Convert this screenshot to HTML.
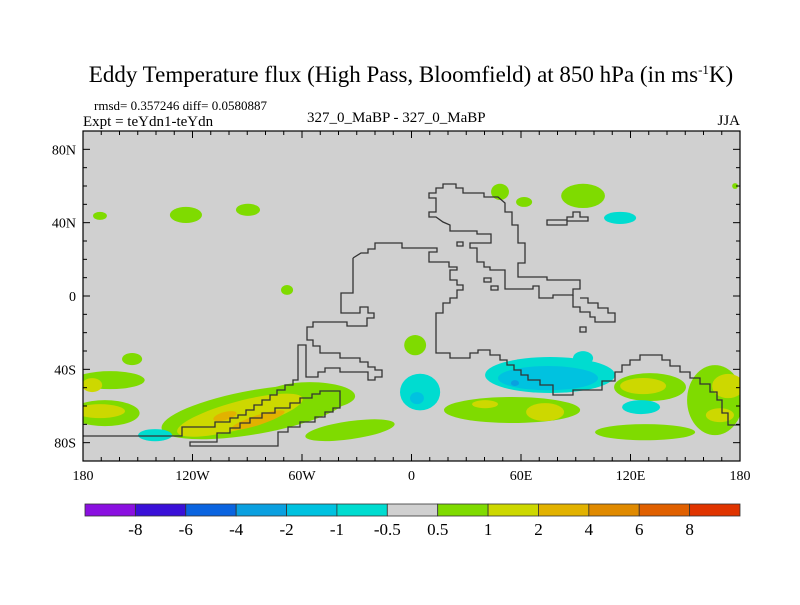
<!DOCTYPE html>
<html><head><meta charset="utf-8"><style>
body{margin:0;background:#fff;}
svg text{font-family:"Liberation Serif",serif;fill:#000;}
</style></head><body>
<svg id="chart" width="800" height="600" viewBox="0 0 800 600" xmlns="http://www.w3.org/2000/svg">
<text x="411" y="82" font-size="23" text-anchor="middle">Eddy Temperature flux (High Pass, Bloomfield) at 850 hPa (in ms<tspan dy="-8" font-size="13">-1</tspan><tspan dy="8">K)</tspan></text>
<text x="94" y="110" font-size="13">rmsd= 0.357246 diff= 0.0580887</text>
<text x="83" y="126" font-size="15">Expt = teYdn1-teYdn</text>
<text x="307" y="122" font-size="15">327_0_MaBP - 327_0_MaBP</text>
<text x="740" y="125" font-size="15" text-anchor="end">JJA</text>
<defs><clipPath id="plotclip"><rect x="83" y="131" width="657" height="330"/></clipPath></defs>
<rect x="83" y="131" width="657" height="330" fill="#d0d0d0"/>
<g id="blobs" clip-path="url(#plotclip)"></g>
<g id="coast" fill="none" stroke="#333" stroke-width="1.3" clip-path="url(#plotclip)">
<path d="M443,184 L456,184 456,188 463,188 463,193 484,193 484,197 498,197 505,203 505,212 512,212 512,225 518,225 518,243 525,243 525,263 518,263 518,277 547,277 547,280 580,280 580,289 573,289 573,295 553,295 553,298 539,298 539,286 533,286 533,289 505,289 505,270 490,270 490,267 484,267 484,262 477,262 477,248 470,248 470,243 491,243 491,234 477,234 477,231 450,231 450,225 443,222 436,217 429,217 429,212 436,212 436,198 429,198 429,193 436,193 436,188 443,188 Z"/>
<path d="M573,295 L573,307 580,307 580,312 590,312 590,317 595,317 595,322 615,322 615,313 608,313 608,308 598,308 598,303 588,303 588,298 580,298"/>
<path d="M547,225 L567,225 567,221 588,221 588,217 580,217 580,212 573,212 573,217 567,217 567,220 547,220 Z"/>
<path d="M457,242 h6 v4 h-6 Z M484,278 h7 v4 h-7 Z M491,286 h7 v4 h-7 Z M580,327 h6 v5 h-6 Z"/>
<path d="M353,258 L361,253 368,253 368,249 375,249 375,243 402,243 402,248 437,248 437,252 429,252 429,262 449,262 449,267 457,267 457,270 450,270 450,280 457,280 457,285 463,285 463,290 457,290 457,298 450,298 450,303 443,303 443,313 436,313 436,353 450,353 450,358 470,358 470,353 478,353 478,350 490,350 490,355 500,355 500,360 507,360 507,365 514,365 514,370 521,370 521,375 528,375 528,380 540,380 540,385 553,385 553,395 573,395 573,390 602,390 602,381 615,381 615,372 622,372 622,365 630,365 630,360 640,360 640,355 662,355 662,360 670,360 670,366 680,366 680,372 690,372 690,378 700,378 700,384 710,384 710,392 717,392 717,400 722,400 722,413 728,413 728,425 742,425"/>
<path d="M353,258 L353,293 341,293 341,313 360,313 360,307 368,307 368,313 374,313 374,318 367,318 367,326 347,326 347,322 313,322 313,327 307,327 307,340 313,340 313,346 320,346 320,353 340,353 340,358 360,358 360,362 368,362 368,367 375,367 375,370 382,370 382,377 375,377 375,380 368,380 368,372 340,372 340,368 325,368 325,372 318,372 318,377 306,377 306,345 298,345 298,380 293,380 293,385 285,385 285,390 277,390 277,395 270,395 270,400 262,400 262,405 254,405 254,410 246,410 246,415 238,415 238,418 230,418 230,422 215,422 215,427 182,427 182,436 83,436"/>
<path d="M190,446 L190,442 217,442 217,433 230,433 230,428 240,428 240,423 250,423 250,418 262,418 262,413 275,413 275,408 290,408 290,403 300,403 300,398 312,398 312,394 320,394 320,391 340,391 340,408 333,408 333,412 325,412 325,417 315,417 315,422 300,422 300,427 288,427 288,432 278,432 278,446 Z"/>
</g>
<g id="ticks" stroke="#000" stroke-width="1"></g>
<rect x="83" y="131" width="657" height="330" fill="none" stroke="#000" stroke-width="1.2"/>
<g id="xlabels"></g><g id="ylabels"></g>
<g id="colorbar"></g>
</svg>
<script>
// contour patches (lon, lat centers; half-widths in degrees; level index)
const blobLon   = [-170.7,-123.6,-89.6,48.5,61.7,94,177.3,-68.2,2,-153.1,-165.2,-168,-85.7,-55.6,-33.7,55.1,130.7,128,166.3, -175,-170.7,-94,40.3,73.2,126.9,173.5,169, -84.1,-102.2, 114.3,4.7,75.9,94,125.8,-140.5, 74.8,3, 56.7];
const blobLat   = [43.7,44.2,47,56.8,51.3,54.6,60,3.3,-26.8,-34.4,-45.9,-63.9,-63.3,-54.6,-73.2,-62.2,-49.7,-74.3,-56.8, -48.6,-62.8,-65,-59,-63.3,-49.1,-49.1,-65, -67.7,-65.5, 42.6,-52.4,-43.1,-33.9,-60.6,-75.9, -44.8,-55.7, -47.5];
const blobRx    = [3.8,8.8,6.6,4.9,4.4,12,1.6,3.3,6,5.5,19,19,52,24.7,24.7,37.3,19.7,27.4,15.3, 5.5,13.7,35.6,7.1,10.4,12.6,8.8,7.7, 15.3,6.6, 8.8,11,35.6,5.5,10.4,9.3, 27.4,3.8, 2.2];
const blobRy    = [2.2,4.4,3.3,4.4,2.7,6.6,1.6,2.7,5.5,3.3,4.9,7.1,12,7.6,4.9,7.1,7.6,4.4,19.1, 3.8,3.8,7.6,2.2,4.9,4.4,6.6,3.8, 2.7,2.2, 3.3,10,9.8,3.8,3.8,3.3, 6.6,3.3, 1.6];
const blobRot   = [0,0,0,0,0,0,0,0,0,0,0,0,-10,0,-8,0,0,0,0, 0,0,-15,0,0,0,0,0, -18,-15, 0,0,0,0,0,0, 0,0, 0];
const blobLevel = [7,7,7,7,7,7,7,7,7,7,7,7,7,7,7,7,7,7,7, 8,8,8,8,8,8,8,8, 9,9, 5,5,5,5,5,5, 4,4, 3];
// colour bar
const cbColors = ["#8a10e0","#3a10d8","#0a64e0","#0aa0e0","#00c2e0","#00dcd0","#d0d0d0","#7fdb00","#cdd800","#e2b200","#e08a00","#e06000","#e03400"];
const cbLabels = ["-8","-6","-4","-2","-1","-0.5","0.5","1","2","4","6","8"];
const xTickVals = [-180,-120,-60,0,60,120,180];
const xTickText = ["180","120W","60W","0","60E","120E","180"];
const yTickVals = [80,40,0,-40,-80];
const yTickText = ["80N","40N","0","40S","80S"];

const NS="http://www.w3.org/2000/svg";
const X0=83,X1=740,Y0=131,Y1=461;
const xs=lon=>X0+(lon+180)/360*(X1-X0);
const ys=lat=>Y0+(90-lat)/180*(Y1-Y0);
const kx=(X1-X0)/360, ky=(Y1-Y0)/180;
function mk(tag,parent){const e=document.createElementNS(NS,tag);parent.appendChild(e);return e;}

const bg=document.getElementById('blobs');
for(let i=0;i<blobLon.length;i++){
  const e=mk('ellipse',bg);
  
  
  const cx=xs(blobLon[i]),cy=ys(blobLat[i]);
  e.setAttribute('cx',cx);e.setAttribute('cy',cy);
  e.setAttribute('rx',blobRx[i]*kx);e.setAttribute('ry',blobRy[i]*ky);
  e.setAttribute('fill',cbColors[blobLevel[i]]);
  if(blobRot[i])e.setAttribute('transform','rotate('+blobRot[i]+' '+cx+' '+cy+')');
}
const tg=document.getElementById('ticks');
for(let lon=-180;lon<=180;lon+=10){
  const maj=lon%60===0, L=maj?7:4, x=xs(lon);
  let t=mk('line',tg);t.setAttribute('x1',x);t.setAttribute('x2',x);t.setAttribute('y1',Y0);t.setAttribute('y2',Y0+L);
  t=mk('line',tg);t.setAttribute('x1',x);t.setAttribute('x2',x);t.setAttribute('y1',Y1);t.setAttribute('y2',Y1-L);
}
for(let lat=-80;lat<=80;lat+=10){
  const maj=lat%40===0, L=maj?7:4, y=ys(lat);
  let t=mk('line',tg);t.setAttribute('y1',y);t.setAttribute('y2',y);t.setAttribute('x1',X0);t.setAttribute('x2',X0+L);
  t=mk('line',tg);t.setAttribute('y1',y);t.setAttribute('y2',y);t.setAttribute('x1',X1);t.setAttribute('x2',X1-L);
}
const xl=document.getElementById('xlabels');
xTickVals.forEach((v,i)=>{const t=mk('text',xl);
  
  
  t.setAttribute('x',xs(v));t.setAttribute('y',480);t.setAttribute('font-size','14');t.setAttribute('text-anchor','middle');t.textContent=xTickText[i];});
const yl=document.getElementById('ylabels');
yTickVals.forEach((v,i)=>{const t=mk('text',yl);
  
  
  t.setAttribute('x',76);t.setAttribute('y',ys(v)+5);t.setAttribute('font-size','14');t.setAttribute('text-anchor','end');t.textContent=yTickText[i];});
const cb=document.getElementById('colorbar');
const CX0=85,CX1=740,CY=504,CH=12,bw=(CX1-CX0)/cbColors.length;
cbColors.forEach((c,i)=>{const r=mk('rect',cb);
  
  
  r.setAttribute('x',CX0+i*bw);r.setAttribute('y',CY);r.setAttribute('width',bw);r.setAttribute('height',CH);r.setAttribute('fill',c);r.setAttribute('stroke','#333');r.setAttribute('stroke-width','0.8');});
cbLabels.forEach((s,i)=>{const t=mk('text',cb);
  
  
  t.setAttribute('x',CX0+(i+1)*bw);t.setAttribute('y',535);t.setAttribute('font-size','17');t.setAttribute('text-anchor','middle');t.textContent=s;});
</script>
</body></html>
